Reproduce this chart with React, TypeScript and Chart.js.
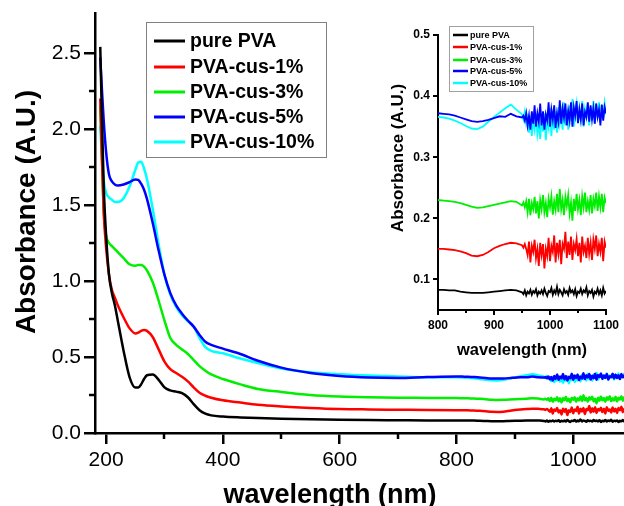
import React, { useEffect, useRef } from 'react';
import { Chart, registerables } from 'chart.js';

Chart.register(...registerables);

// ---------------- data ----------------
const seriesLabels = ['pure PVA', 'PVA-cus-1%', 'PVA-cus-3%', 'PVA-cus-5%', 'PVA-cus-10%'];
const seriesColors = ['#000000', '#ff0000', '#00ee00', '#0000ff', '#00ffff'];

// wavelength grid (nm) for the UV-visible part of the spectra
const headWavelengths = [190, 193, 196, 200, 205, 210, 215, 220, 230, 240, 250, 255, 260, 265, 270, 280, 290, 300, 310, 320, 330, 340, 350, 360, 370, 380, 400, 430, 460, 500, 550, 600, 650, 700, 750];
// wavelength grid (nm) for the NIR part of the spectra (also shown in the inset)
const tailWavelengths = [800, 810, 820, 830, 840, 850, 860, 870, 880, 890, 900, 910, 920, 930, 940,
  950, 952.5, 955, 957.5, 960, 962.5, 965, 967.5, 970, 972.5, 975, 977.5, 980, 982.5, 985, 987.5, 990, 992.5, 995, 997.5,
  1000, 1002.5, 1005, 1007.5, 1010, 1012.5, 1015, 1017.5, 1020, 1022.5, 1025, 1027.5, 1030, 1032.5, 1035, 1037.5, 1040, 1042.5, 1045, 1047.5,
  1050, 1052.5, 1055, 1057.5, 1060, 1062.5, 1065, 1067.5, 1070, 1072.5, 1075, 1077.5, 1080, 1082.5, 1085, 1087.5, 1090, 1092.5, 1095, 1097.5, 1100];

const purePvaHead = [2.54, 2.05, 1.62, 1.30, 1.04, 0.92, 0.84, 0.74, 0.54, 0.37, 0.30, 0.30, 0.32, 0.355, 0.38, 0.385, 0.35, 0.30, 0.28, 0.272, 0.262, 0.235, 0.19, 0.15, 0.127, 0.116, 0.108, 0.102, 0.098, 0.094, 0.09, 0.087, 0.085, 0.084, 0.083];
const purePvaTail = [0.083, 0.083, 0.082, 0.082, 0.080, 0.079, 0.078, 0.078, 0.078, 0.079, 0.080, 0.081, 0.082, 0.083, 0.082,
  0.079, 0.076, 0.082, 0.074, 0.080, 0.077, 0.083, 0.075, 0.081, 0.078,
  0.084, 0.074, 0.080, 0.077, 0.082, 0.076, 0.085, 0.078, 0.073, 0.081,
  0.079, 0.086, 0.075, 0.082, 0.077, 0.088, 0.076, 0.083, 0.079, 0.074,
  0.084, 0.078, 0.081, 0.075, 0.086, 0.079, 0.082, 0.076, 0.084, 0.073,
  0.080, 0.078, 0.085, 0.076, 0.082, 0.079, 0.087, 0.074, 0.081, 0.078,
  0.083, 0.072, 0.080, 0.077, 0.085, 0.076, 0.082, 0.074, 0.086, 0.077,
  0.081];

const cus1Head = [2.20, 1.80, 1.45, 1.22, 1.04, 0.94, 0.89, 0.84, 0.76, 0.69, 0.655, 0.66, 0.672, 0.677, 0.672, 0.63, 0.55, 0.47, 0.42, 0.395, 0.37, 0.34, 0.30, 0.265, 0.245, 0.232, 0.215, 0.20, 0.186, 0.175, 0.165, 0.158, 0.155, 0.153, 0.151];
const cus1Tail = [0.150, 0.150, 0.149, 0.148, 0.146, 0.143, 0.139, 0.138, 0.140, 0.145, 0.151, 0.155, 0.158, 0.160, 0.159,
  0.156, 0.152, 0.158, 0.150, 0.140, 0.162, 0.128, 0.155, 0.145, 0.165,
  0.135, 0.150, 0.122, 0.160, 0.140, 0.158, 0.118, 0.150, 0.138, 0.168,
  0.130, 0.155, 0.145, 0.172, 0.128, 0.160, 0.142, 0.165, 0.125, 0.158,
  0.150, 0.178, 0.135, 0.162, 0.140, 0.170, 0.132, 0.158, 0.148, 0.166,
  0.138, 0.160, 0.128, 0.170, 0.145, 0.155, 0.135, 0.168, 0.142, 0.160,
  0.132, 0.165, 0.150, 0.172, 0.138, 0.158, 0.145, 0.168, 0.130, 0.162,
  0.152];

const cus3Head = [2.15, 1.80, 1.45, 1.30, 1.25, 1.23, 1.21, 1.19, 1.15, 1.11, 1.10, 1.105, 1.105, 1.095, 1.07, 0.99, 0.87, 0.74, 0.625, 0.58, 0.55, 0.52, 0.48, 0.44, 0.41, 0.385, 0.355, 0.32, 0.29, 0.27, 0.25, 0.24, 0.235, 0.232, 0.231];
const cus3Tail = [0.230, 0.229, 0.228, 0.227, 0.225, 0.222, 0.219, 0.217, 0.218, 0.220, 0.222, 0.224, 0.226, 0.228, 0.227,
  0.221, 0.226, 0.218, 0.228, 0.210, 0.232, 0.205, 0.225, 0.215, 0.235,
  0.208, 0.228, 0.200, 0.230, 0.215, 0.238, 0.210, 0.225, 0.202, 0.232,
  0.218, 0.236, 0.206, 0.228, 0.214, 0.240, 0.210, 0.248, 0.215, 0.230,
  0.205, 0.235, 0.220, 0.238, 0.208, 0.226, 0.196, 0.232, 0.212, 0.240,
  0.215, 0.230, 0.205, 0.236, 0.218, 0.242, 0.210, 0.228, 0.214, 0.238,
  0.208, 0.232, 0.220, 0.242, 0.212, 0.236, 0.218, 0.240, 0.210, 0.234,
  0.225];

const cus5Head = [2.47, 2.25, 2.05, 1.85, 1.70, 1.655, 1.635, 1.628, 1.635, 1.65, 1.668, 1.665, 1.64, 1.60, 1.54, 1.38, 1.20, 1.04, 0.92, 0.84, 0.785, 0.74, 0.70, 0.645, 0.60, 0.58, 0.555, 0.52, 0.475, 0.43, 0.395, 0.375, 0.365, 0.362, 0.368];
const cus5Tail = [0.372, 0.371, 0.370, 0.368, 0.365, 0.362, 0.359, 0.358, 0.359, 0.361, 0.364, 0.367, 0.366, 0.371, 0.367,
  0.365, 0.368, 0.360, 0.372, 0.352, 0.368, 0.345, 0.375, 0.355, 0.385,
  0.350, 0.372, 0.358, 0.388, 0.352, 0.375, 0.345, 0.370, 0.360, 0.390,
  0.350, 0.378, 0.362, 0.385, 0.348, 0.372, 0.358, 0.393, 0.355, 0.380,
  0.365, 0.388, 0.352, 0.376, 0.360, 0.390, 0.350, 0.382, 0.368, 0.392,
  0.356, 0.378, 0.362, 0.388, 0.352, 0.374, 0.366, 0.390, 0.358, 0.385,
  0.362, 0.380, 0.355, 0.388, 0.366, 0.378, 0.352, 0.386, 0.360, 0.382,
  0.372];

const cus10Head = [2.02, 1.80, 1.66, 1.58, 1.55, 1.535, 1.52, 1.52, 1.545, 1.62, 1.73, 1.78, 1.785, 1.74, 1.67, 1.47, 1.24, 1.04, 0.91, 0.83, 0.775, 0.735, 0.70, 0.625, 0.565, 0.54, 0.525, 0.49, 0.46, 0.425, 0.40, 0.387, 0.378, 0.372, 0.367];
const cus10Tail = [0.366, 0.365, 0.363, 0.360, 0.356, 0.351, 0.347, 0.346, 0.350, 0.358, 0.366, 0.373, 0.380, 0.386, 0.378,
  0.370, 0.362, 0.375, 0.355, 0.365, 0.340, 0.368, 0.335, 0.360, 0.345,
  0.372, 0.338, 0.355, 0.330, 0.365, 0.342, 0.372, 0.328, 0.360, 0.348,
  0.380, 0.335, 0.368, 0.345, 0.375, 0.340, 0.382, 0.355, 0.372, 0.345,
  0.390, 0.352, 0.378, 0.345, 0.385, 0.360, 0.395, 0.350, 0.372, 0.388,
  0.355, 0.380, 0.362, 0.392, 0.350, 0.378, 0.365, 0.388, 0.352, 0.382,
  0.360, 0.392, 0.355, 0.380, 0.368, 0.390, 0.358, 0.385, 0.362, 0.388,
  0.370];

const seriesHeads = [purePvaHead, cus1Head, cus3Head, cus5Head, cus10Head];
const seriesTails = [purePvaTail, cus1Tail, cus3Tail, cus5Tail, cus10Tail];

// tick values
const mainXMajor = [200, 400, 600, 800, 1000];
const mainXMinor = [300, 500, 700, 900];
const mainYMajor = [0, 0.5, 1.0, 1.5, 2.0, 2.5];
const mainYMinor = [0.25, 0.75, 1.25, 1.75, 2.25];
const insetXMajor = [800, 900, 1000, 1100];
const insetXMinor = [850, 950, 1050];
const insetYMajor = [0.1, 0.2, 0.3, 0.4, 0.5];

const xTitle = 'wavelength (nm)';
const yTitle = 'Absorbance (A.U.)';

const FONT = '"Liberation Sans", Arial, Helvetica, sans-serif';

// ---------------- helpers ----------------
function buildDatasets(wls: number[][], vals: number[][], width: number, smooth: boolean) {
  return seriesLabels.map((label, i) => ({
    label,
    data: wls[i].map((x, j) => ({ x, y: vals[i][j] })),
    borderColor: seriesColors[i],
    backgroundColor: seriesColors[i],
    borderWidth: width,
    pointRadius: 0,
    fill: false,
    tension: 0,
    cubicInterpolationMode: smooth ? ('monotone' as const) : ('default' as const),
  }));
}

type DecorCfg = {
  xMinor: number[];
  yMinor: number[];
  minorLen: number;
  tickWidth: number;
  titleFont: string;
  xTitlePos: [number, number];
  yTitleFont: string;
  yTitlePos: [number, number];
  legendBox: [number, number, number, number];
  legendBorder: string;
  legendRows: number[];
  legendLineX: [number, number];
  legendTextX: number;
  legendFont: string;
  legendLineWidth: number;
};

function makeDecor(cfg: DecorCfg) {
  return {
    id: 'decor',
    afterDraw(chart: any) {
      const ctx: CanvasRenderingContext2D = chart.ctx;
      const area = chart.chartArea;
      const xs = chart.scales.x;
      const ys = chart.scales.y;
      ctx.save();
      ctx.strokeStyle = '#000';
      ctx.lineWidth = cfg.tickWidth;
      for (const v of cfg.xMinor) {
        const px = Math.round(xs.getPixelForValue(v));
        ctx.beginPath();
        ctx.moveTo(px, area.bottom);
        ctx.lineTo(px, area.bottom + cfg.minorLen);
        ctx.stroke();
      }
      for (const v of cfg.yMinor) {
        const py = Math.round(ys.getPixelForValue(v));
        ctx.beginPath();
        ctx.moveTo(area.left, py);
        ctx.lineTo(area.left - cfg.minorLen, py);
        ctx.stroke();
      }
      // axis titles
      ctx.fillStyle = '#000';
      ctx.textAlign = 'center';
      ctx.textBaseline = 'alphabetic';
      ctx.font = cfg.titleFont;
      ctx.fillText(xTitle, cfg.xTitlePos[0], cfg.xTitlePos[1]);
      ctx.save();
      ctx.translate(cfg.yTitlePos[0], cfg.yTitlePos[1]);
      ctx.rotate(-Math.PI / 2);
      ctx.font = cfg.yTitleFont;
      ctx.fillText(yTitle, 0, 0);
      ctx.restore();
      // legend
      const [bx, by, bw, bh] = cfg.legendBox;
      ctx.fillStyle = '#ffffff';
      ctx.fillRect(bx, by, bw, bh);
      ctx.strokeStyle = cfg.legendBorder;
      ctx.lineWidth = 1;
      ctx.strokeRect(bx + 0.5, by + 0.5, bw, bh);
      ctx.font = cfg.legendFont;
      ctx.textAlign = 'left';
      ctx.textBaseline = 'middle';
      chart.data.datasets.forEach((ds: any, i: number) => {
        const y = cfg.legendRows[i];
        ctx.strokeStyle = ds.borderColor;
        ctx.lineWidth = cfg.legendLineWidth;
        ctx.beginPath();
        ctx.moveTo(cfg.legendLineX[0], y);
        ctx.lineTo(cfg.legendLineX[1], y);
        ctx.stroke();
        ctx.fillStyle = '#000';
        ctx.fillText(ds.label, cfg.legendTextX, y + 1);
      });
      ctx.restore();
    },
  };
}

function useChart(ref: React.RefObject<HTMLCanvasElement | null>, build: () => any) {
  useEffect(() => {
    if (!ref.current) return;
    const chart = new Chart(ref.current, build());
    return () => chart.destroy();
  }, []);
}

// ---------------- main chart ----------------
function mainConfig() {
  const wls = seriesLabels.map(() => headWavelengths.concat(tailWavelengths));
  const vals = seriesLabels.map((_, i) => seriesHeads[i].concat(seriesTails[i]));
  return {
    type: 'line',
    data: { datasets: buildDatasets(wls, vals, 2.5, true) },
    options: {
      animation: false,
      responsive: false,
      devicePixelRatio: 1,
      layout: { padding: { top: 13, right: 0, left: 0, bottom: 0 } },
      plugins: { legend: { display: false }, tooltip: { enabled: false } },
      scales: {
        x: {
          type: 'linear',
          min: 181,
          max: 1087,
          afterBuildTicks: (s: any) => { s.ticks = mainXMajor.map((v) => ({ value: v })); },
          afterFit: (s: any) => { s.height = 73; s.paddingLeft = 0; s.paddingRight = 0; },
          border: { display: true, color: '#000', width: 2.5 },
          grid: { display: true, drawOnChartArea: false, drawTicks: true, tickLength: 11, color: '#000', lineWidth: 2.5 },
          ticks: { color: '#000', font: { family: FONT, size: 21 }, padding: 4, maxRotation: 0, autoSkip: false, callback: (v: any) => String(v) },
        },
        y: {
          type: 'linear',
          min: 0,
          max: 2.763,
          afterBuildTicks: (s: any) => { s.ticks = mainYMajor.map((v) => ({ value: v })); },
          afterFit: (s: any) => { s.width = 95; s.paddingTop = 0; s.paddingBottom = 0; },
          border: { display: true, color: '#000', width: 2.5 },
          grid: { display: true, drawOnChartArea: false, drawTicks: true, tickLength: 11, color: '#000', lineWidth: 2.5 },
          ticks: { color: '#000', font: { family: FONT, size: 21 }, padding: 3, autoSkip: false, callback: (v: any) => Number(v).toFixed(1) },
        },
      },
    },
    plugins: [
      makeDecor({
        xMinor: mainXMinor,
        yMinor: mainYMinor,
        minorLen: 6,
        tickWidth: 2.5,
        titleFont: `bold 27px ${FONT}`,
        xTitlePos: [330, 503],
        yTitleFont: `bold 28px ${FONT}`,
        yTitlePos: [35, 212],
        legendBox: [146, 22, 180, 135],
        legendBorder: '#808080',
        legendRows: [41, 67, 92, 117, 142],
        legendLineX: [154, 185],
        legendTextX: 190,
        legendFont: `bold 19.5px ${FONT}`,
        legendLineWidth: 3,
      }),
    ],
  };
}

// ---------------- inset chart ----------------
function insetConfig() {
  const wls = seriesLabels.map(() => tailWavelengths);
  return {
    type: 'line',
    data: { datasets: buildDatasets(wls, seriesTails, 1.8, false) },
    options: {
      animation: false,
      responsive: false,
      devicePixelRatio: 1,
      layout: { padding: { top: 20, right: 18, left: 0, bottom: 0 } },
      plugins: { legend: { display: false }, tooltip: { enabled: false } },
      scales: {
        x: {
          type: 'linear',
          min: 800,
          max: 1100,
          afterBuildTicks: (s: any) => { s.ticks = insetXMajor.map((v) => ({ value: v })); },
          afterFit: (s: any) => { s.height = 60; s.paddingLeft = 0; s.paddingRight = 0; },
          border: { display: true, color: '#000', width: 2 },
          grid: { display: true, drawOnChartArea: false, drawTicks: true, tickLength: 5, color: '#000', lineWidth: 2 },
          ticks: { color: '#000', font: { family: FONT, size: 12, weight: 'bold' }, padding: 3, maxRotation: 0, autoSkip: false, callback: (v: any) => String(v) },
        },
        y: {
          type: 'linear',
          min: 0.05,
          max: 0.5,
          afterBuildTicks: (s: any) => { s.ticks = insetYMajor.map((v) => ({ value: v })); },
          afterFit: (s: any) => { s.width = 58; s.paddingTop = 0; s.paddingBottom = 0; },
          border: { display: true, color: '#000', width: 2 },
          grid: { display: true, drawOnChartArea: false, drawTicks: true, tickLength: 5, color: '#000', lineWidth: 2 },
          ticks: { color: '#000', font: { family: FONT, size: 12, weight: 'bold' }, padding: 3, autoSkip: false, callback: (v: any) => Number(v).toFixed(1) },
        },
      },
    },
    plugins: [
      makeDecor({
        xMinor: insetXMinor,
        yMinor: [],
        minorLen: 3,
        tickWidth: 2,
        titleFont: `bold 16.5px ${FONT}`,
        xTitlePos: [142, 340],
        yTitleFont: `bold 17px ${FONT}`,
        yTitlePos: [23, 143],
        legendBox: [69, 11, 84, 65],
        legendBorder: '#a0a0a0',
        legendRows: [20, 32, 45, 56, 68],
        legendLineX: [73, 88],
        legendTextX: 90,
        legendFont: `bold 9px ${FONT}`,
        legendLineWidth: 2.5,
      }),
    ],
  };
}

function MainChart() {
  const ref = useRef<HTMLCanvasElement>(null);
  useChart(ref, mainConfig);
  return <canvas ref={ref} width={624} height={506} style={{ position: 'absolute', left: 0, top: 0, width: 624, height: 506 }} />;
}

function InsetChart() {
  const ref = useRef<HTMLCanvasElement>(null);
  useChart(ref, insetConfig);
  return <canvas ref={ref} width={244} height={355} style={{ position: 'absolute', left: 380, top: 15, width: 244, height: 355 }} />;
}

export default function App() {
  return (
    <div style={{ position: 'fixed', left: 0, top: 0, width: 624, height: 506, background: '#ffffff', overflow: 'hidden' }}>
      <MainChart />
      <InsetChart />
    </div>
  );
}
